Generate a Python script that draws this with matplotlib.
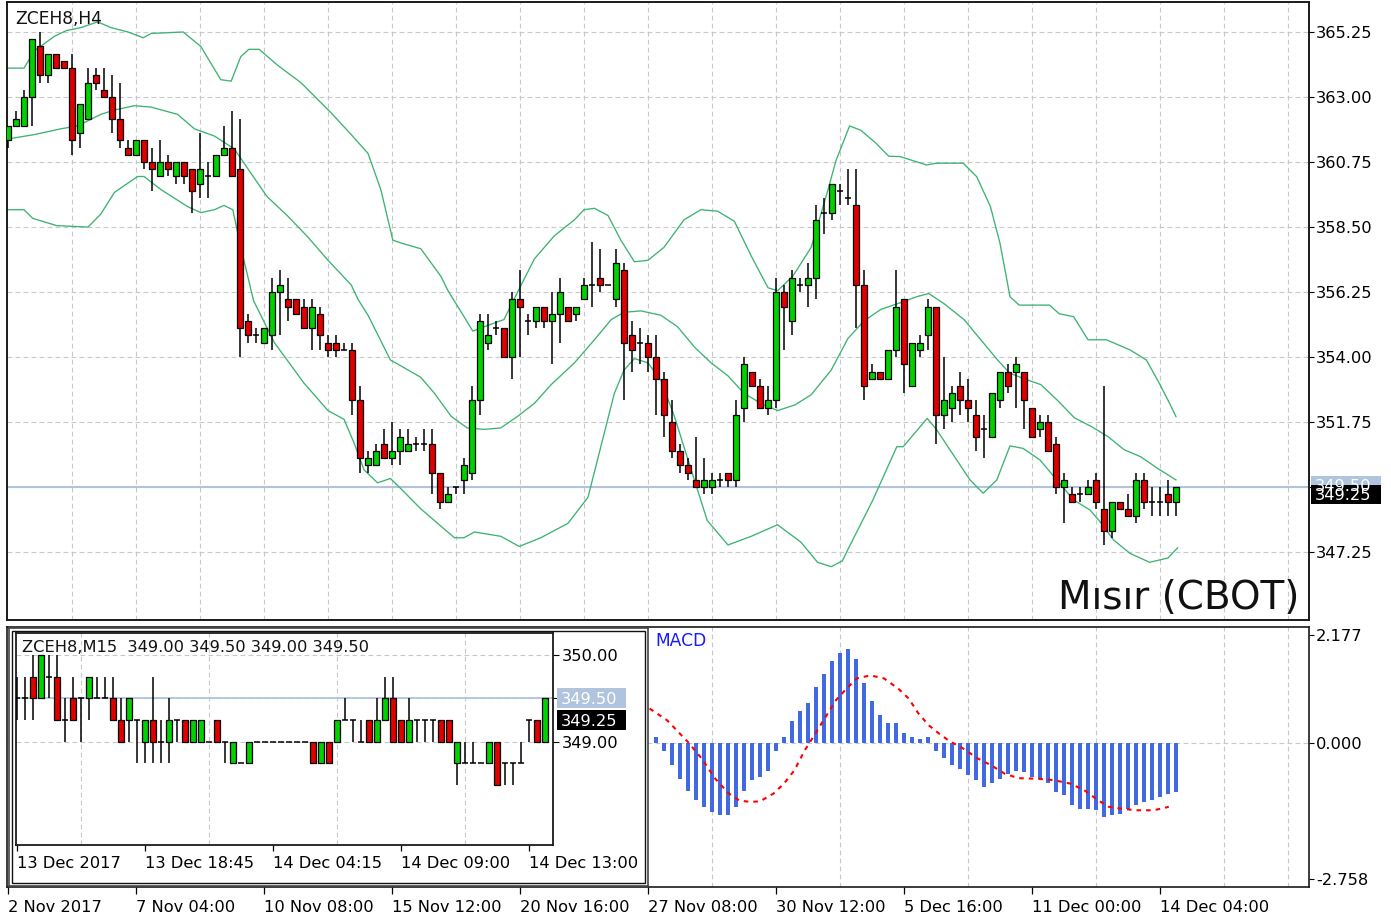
import matplotlib
matplotlib.use("Agg")
import matplotlib.pyplot as plt
from matplotlib.patches import Rectangle
from matplotlib.transforms import IdentityTransform
import numpy as np

plt.rcParams['font.family'] = ['DejaVu Sans']

W, H = 1391, 924
GREEN = '#00d200'
RED = '#e00000'
BAND = '#3cb371'
GRID = '#c8c8c8'
PRICE_LINE = '#b0c4de'
FS = 11.7

# ---------------- H4 candles (ZCEH8) ----------------
h4_open = [361.50, 362.00, 362.00, 363.00, 364.75, 363.75, 364.50, 364.25, 364.00, 361.75,
           362.25, 363.75, 363.25, 363.00, 362.25, 361.25, 361.00, 361.50, 360.75, 360.25,
           360.75, 360.25, 360.75, 360.50, 360.00, 360.25, 360.25, 361.00, 361.25, 360.50,
           355.25, 354.75, 354.50, 354.75, 356.25, 356.00, 356.00, 355.75, 355.00, 355.50,
           354.50, 354.50, 354.25, 354.25, 352.50, 350.25, 350.25, 351.00, 350.50, 350.75,
           350.75, 351.00, 351.00, 351.00, 350.00, 349.00, 349.50, 349.75, 350.00, 352.50,
           354.50, 355.00, 355.00, 354.00, 356.00, 355.25, 355.25, 355.75, 355.25, 355.50,
           355.75, 355.50, 356.00, 356.50, 356.75, 356.50, 356.00, 357.00, 354.75, 354.50,
           354.50, 354.00, 353.25, 351.75, 350.75, 350.25, 349.75, 349.50, 349.50, 349.75,
           350.00, 349.75, 352.25, 353.50, 353.00, 352.25, 352.50, 356.25, 355.25, 356.50,
           356.50, 356.75, 359.00, 359.00, 359.75, 359.50, 359.25, 356.50, 353.25, 353.50,
           353.25, 354.25, 356.00, 353.00, 354.25, 354.75, 355.75, 352.00, 352.25, 353.00,
           352.50, 352.00, 351.50, 351.25, 352.50, 353.50, 353.50, 353.50, 352.25, 351.50,
           351.75, 351.00, 349.50, 349.25, 349.25, 349.25, 349.75, 348.75, 348.00, 349.00,
           348.75, 348.50, 349.75, 349.00, 349.00, 349.25, 349.00]
h4_close = [362.00, 362.25, 363.00, 365.00, 363.75, 364.50, 364.00, 364.00, 361.50, 362.75,
            363.50, 363.50, 363.00, 362.25, 361.50, 361.00, 361.50, 360.75, 360.50, 360.75,
            360.50, 360.75, 360.25, 359.75, 360.50, 360.25, 361.00, 361.25, 360.25, 355.00,
            354.75, 354.75, 355.00, 356.25, 356.50, 355.75, 355.50, 355.00, 355.75, 354.75,
            354.25, 354.25, 354.25, 352.50, 350.50, 350.50, 350.75, 350.50, 350.75, 351.25,
            351.00, 351.00, 351.00, 350.00, 349.00, 349.25, 349.50, 350.25, 352.50, 355.25,
            354.75, 355.00, 354.00, 356.00, 355.75, 355.25, 355.75, 355.25, 355.50, 356.25,
            355.25, 355.75, 356.50, 356.50, 356.50, 356.50, 357.25, 354.50, 354.25, 354.50,
            354.00, 353.25, 352.00, 350.75, 350.25, 350.00, 349.50, 349.75, 349.75, 349.75,
            349.75, 352.00, 353.75, 353.00, 352.25, 352.50, 356.25, 355.75, 356.75, 356.50,
            356.75, 358.75, 359.00, 360.00, 359.75, 359.50, 356.50, 353.00, 353.50, 353.25,
            354.25, 355.75, 353.75, 354.50, 354.50, 355.75, 352.00, 352.50, 352.75, 352.50,
            352.25, 351.25, 351.50, 352.75, 353.50, 353.00, 353.75, 352.50, 351.25, 351.75,
            350.75, 349.50, 349.75, 349.00, 349.25, 349.50, 349.00, 348.00, 349.00, 348.75,
            348.50, 349.75, 349.00, 349.00, 349.00, 349.00, 349.50]
h4_high = [362.00, 362.50, 363.25, 365.00, 365.25, 364.50, 364.50, 364.25, 364.50, 362.75,
           364.00, 364.00, 364.00, 363.75, 363.50, 361.50, 361.50, 361.50, 361.25, 361.50,
           361.00, 360.75, 360.75, 360.50, 361.75, 360.75, 361.00, 362.00, 362.50, 362.25,
           355.50, 355.00, 355.00, 356.75, 357.00, 356.75, 356.00, 356.00, 356.00, 355.75,
           354.75, 354.75, 354.50, 354.50, 353.00, 350.75, 351.00, 351.50, 351.75, 351.50,
           351.50, 351.25, 351.50, 351.50, 350.00, 349.50, 349.50, 350.50, 353.00, 355.50,
           355.50, 355.25, 355.00, 356.25, 357.00, 355.50, 355.75, 355.75, 356.25, 356.75,
           355.75, 355.75, 356.75, 358.00, 357.75, 356.50, 357.75, 357.25, 355.25, 355.00,
           354.75, 354.75, 353.50, 352.50, 351.00, 350.50, 351.25, 350.50, 350.00, 350.00,
           350.00, 352.50, 354.00, 353.50, 353.25, 353.00, 356.75, 356.50, 357.00, 356.75,
           357.25, 359.25, 359.50, 360.00, 360.00, 360.50, 360.50, 357.00, 353.75, 353.50,
           354.25, 357.00, 356.00, 354.50, 354.75, 356.00, 355.75, 354.00, 353.00, 353.50,
           353.25, 352.50, 352.00, 352.75, 353.50, 353.75, 354.00, 353.50, 352.25, 352.00,
           352.00, 351.25, 350.00, 349.50, 349.50, 349.75, 350.00, 353.00, 349.00, 349.00,
           349.25, 350.00, 350.00, 349.50, 349.50, 349.75, 349.50]
h4_low = [361.25, 362.00, 362.00, 362.00, 363.50, 363.50, 364.00, 364.00, 361.00, 361.25,
          362.25, 363.25, 363.00, 361.75, 361.25, 361.00, 361.00, 360.50, 359.75, 360.25,
          360.25, 360.00, 360.00, 359.00, 359.50, 359.50, 360.25, 361.00, 360.25, 354.00,
          354.50, 354.50, 354.50, 354.25, 354.75, 355.25, 355.50, 355.00, 354.25, 354.25,
          354.00, 354.00, 354.25, 352.00, 350.00, 350.00, 350.25, 350.50, 350.25, 350.25,
          350.75, 350.75, 350.75, 349.25, 348.75, 349.00, 349.25, 349.25, 349.75, 352.00,
          354.25, 354.75, 354.00, 353.25, 354.00, 354.75, 355.00, 355.00, 353.75, 354.50,
          355.25, 355.25, 356.00, 355.75, 356.25, 356.50, 355.75, 352.50, 353.50, 353.75,
          353.50, 352.00, 351.25, 350.50, 350.00, 349.75, 349.50, 349.25, 349.25, 349.50,
          349.50, 349.50, 351.75, 353.00, 352.25, 352.00, 352.25, 354.25, 354.75, 356.25,
          355.75, 356.00, 358.25, 358.75, 359.25, 359.25, 355.00, 352.50, 353.25, 353.25,
          353.25, 354.00, 352.75, 353.00, 354.00, 354.25, 351.00, 351.50, 351.75, 352.00,
          351.75, 350.75, 350.50, 351.25, 352.25, 352.75, 352.25, 351.50, 351.25, 351.25,
          350.75, 349.25, 348.25, 349.00, 349.00, 349.25, 348.75, 347.50, 347.75, 348.75,
          348.50, 348.25, 348.75, 348.50, 348.50, 348.50, 348.50]

# Bollinger bands (bar position, price)
bb_up_x = [0, 2, 3.3, 5.8, 7.3, 9.1, 11.2, 12.9, 15, 16.9, 17.9, 21.9, 24.1, 26.6, 27.9, 29.1,
           30.1, 31.4, 33.7, 36.6, 40.4, 42.9, 45, 46.6, 48.1, 49.1, 51.6, 54.1, 55, 57, 58.1,
           59.5, 62, 63.7, 65.8, 68.3, 70.8, 72, 73.3, 75, 76.6, 78.3, 80, 82, 84.5, 86.6, 88.7,
           90.8, 92.9, 95, 96.2, 98.1, 100.4, 102.4, 103.5, 105.2, 106.6, 108.5, 110.1, 111.5,
           114.8, 116.1, 119.4, 121.1, 122.8, 124.0, 125.25, 126.4, 130.2, 131.4, 133.2, 135.0,
           137.3, 140.25, 142.3, 143.9, 145.2, 146.0]
bb_up = [364.0, 364.0, 364.6, 365.1, 365.3, 365.4, 365.6, 365.4, 365.25, 365.05, 365.2, 365.25,
         364.75, 363.6, 363.55, 364.4, 364.65, 364.65, 364.1, 363.5, 362.45, 361.7, 361.05,
         359.8, 358.05, 357.95, 357.75, 356.8, 356.3, 355.4, 354.9, 355.05, 355.3, 356.25,
         357.4, 358.2, 358.75, 359.1, 359.15, 358.9, 358.05, 357.3, 357.35, 357.8, 358.75,
         359.1, 359.05, 358.7, 357.5, 356.4, 356.3, 356.8, 357.8, 359.7, 360.8, 362.0, 361.85,
         361.4, 360.95, 360.94, 360.65, 360.71, 360.71, 360.24, 359.21, 357.94, 356.09, 355.8,
         355.8, 355.5, 355.4, 354.6, 354.6, 354.25, 353.9, 353.1, 352.4, 351.94]
bb_mid_x = [0, 3.3, 6.6, 8.7, 11.6, 13.3, 15.8, 17.9, 21.2, 23.3, 25.8, 28.3, 30.4, 32.4, 34.9,
            37.5, 40, 42.9, 43.75, 45, 47.8, 49.1, 51.6, 53.3, 55.4, 57.4, 59.5, 61.6, 63.7,
            65.8, 67.9, 70.8, 73.3, 75.4, 77, 79.1, 81.6, 83.7, 85.8, 87.9, 90, 92, 94.1, 96.2,
            98.4, 100.4, 102.9, 105, 107, 109.1, 111.2, 113.7, 115.1, 117, 119.5, 121.6, 123.7,
            125.2, 127, 129.1, 131.2, 133.3, 135.4, 137.5, 139.5, 141.6, 143.7, 146]
bb_mid = [361.55, 361.7, 361.9, 362.0, 362.4, 362.55, 362.7, 362.65, 362.4, 361.9, 361.65,
          361.2, 360.35, 359.55, 358.9, 358.15, 357.35, 356.5, 356.0, 355.45, 353.9, 353.7,
          353.3, 352.75, 351.95, 351.55, 351.5, 351.55, 351.95, 352.4, 353.05, 353.8, 354.6,
          355.3, 355.55, 355.6, 355.45, 355.05, 354.35, 353.8, 353.35, 352.75, 352.4, 352.15,
          352.35, 352.7, 353.55, 354.65, 355.25, 355.65, 355.85, 356.1, 356.2, 355.85, 355.3,
          354.6, 353.9, 353.45, 353.25, 353.05, 352.5, 351.9, 351.6, 351.25, 350.8, 350.55,
          350.15, 349.75]
bb_low_x = [0, 2, 3.1, 6.1, 10, 11.6, 13.3, 16.2, 17, 19.1, 22.5, 24.1, 25.8, 27, 28.1, 29.1,
            30.7, 33.3, 37, 40, 42, 43.3, 44.5, 46.2, 47.8, 49.1, 51.6, 55.8, 57, 58.3, 61.6,
            63.9, 66.6, 70, 72.5, 74.1, 75.8, 77, 78.3, 80, 81.6, 83.3, 85.4, 87.4, 90, 92.9,
            96.2, 99.1, 101.2, 102.9, 104.3, 105, 108.1, 111.1, 111.9, 114.9, 116.1, 120.25,
            121.9, 123.6, 125.25, 126.9, 129, 131.1, 133.2, 135.25, 136.5, 138.2, 140.25,
            142.7, 145, 146.2]
bb_low = [359.1, 359.1, 358.8, 358.55, 358.5, 358.95, 359.7, 360.25, 360.25, 359.8, 359.2,
          359.0, 359.1, 359.25, 359.1, 357.8, 355.95, 354.5, 353.1, 352.15, 351.85, 351.0,
          350.1, 349.65, 349.8, 349.45, 348.75, 347.75, 347.75, 347.95, 347.8, 347.45, 347.75,
          348.25, 349.15, 350.9, 352.75, 353.55, 353.95, 353.8, 353.2, 351.95, 350.1, 348.35,
          347.5, 347.8, 348.2, 347.6, 346.9, 346.75, 346.95, 347.35, 349.05, 350.9, 350.9,
          351.88, 351.48, 349.75, 349.29, 349.75, 350.93, 350.84, 350.44, 349.75, 349.06,
          348.71, 348.31, 347.67, 347.21, 346.9, 347.05, 347.4]

price_ticks = [365.25, 363.00, 360.75, 358.50, 356.25, 354.00, 351.75, 349.50, 347.25]
bid_price = 349.25
ask_price = 349.50
h4_dates = ['2 Nov 2017', '7 Nov 04:00', '10 Nov 08:00', '15 Nov 12:00', '20 Nov 16:00',
            '27 Nov 08:00', '30 Nov 12:00', '5 Dec 16:00', '11 Dec 00:00', '14 Dec 04:00']

# ---------------- MACD ----------------
macd_first_bar = 81
macd_hist = [0.12, -0.16, -0.45, -0.73, -0.97, -1.17, -1.30, -1.40, -1.46, -1.46,
             -1.30, -0.97, -0.76, -0.70, -0.57, -0.16, 0.12, 0.44, 0.63, 0.80,
             1.13, 1.38, 1.65, 1.82, 1.90, 1.70, 1.21, 0.84, 0.55, 0.40,
             0.40, 0.20, 0.12, 0.07, 0.12, -0.16, -0.31, -0.45, -0.53, -0.66,
             -0.76, -0.90, -0.81, -0.73, -0.63, -0.57, -0.59, -0.70, -0.73, -0.81,
             -1.01, -1.07, -1.26, -1.34, -1.34, -1.37, -1.51, -1.46, -1.45, -1.34,
             -1.26, -1.21, -1.17, -1.10, -1.05, -1.00]
sig_x = [80.2, 82.4, 85.0, 86.7, 88.4, 90.1, 91.4, 92.7, 94.0, 95.7, 97.0, 98.3, 99.6, 100.9,
         102.2, 103.5, 104.8, 106.1, 107.8, 109.5, 111.3, 112.6, 113.8, 115.1, 116.4, 117.7,
         119.4, 121.2, 122.9, 124.6, 126.3, 128.5, 130.7, 132.8, 134.5, 136.3, 137.6, 139.3,
         141.0, 143.2, 145.1]
sig_y = [0.69, 0.45, 0.01, -0.32, -0.73, -1.03, -1.17, -1.20, -1.19, -1.03, -0.83, -0.56,
         -0.155, 0.18, 0.52, 0.86, 1.09, 1.30, 1.36, 1.30, 1.09, 0.89, 0.59, 0.35, 0.18, 0.03,
         -0.12, -0.32, -0.46, -0.63, -0.72, -0.73, -0.76, -0.83, -0.96, -1.17, -1.30, -1.34,
         -1.37, -1.37, -1.30]
macd_ticks = [2.177, 0.0, -2.758]

# ---------------- M15 inset ----------------
m15_open = [349.50, 349.50, 349.75, 349.50, 349.75, 349.75, 349.25, 349.50, 349.50, 349.50,
            349.50, 349.50, 349.50, 349.25, 349.25, 349.25, 349.00, 349.25, 349.00, 349.00,
            349.25, 349.25, 349.00, 349.00, 349.00, 349.25, 349.00, 348.75, 348.75, 348.75,
            349.00, 349.00, 349.00, 349.00, 349.00, 349.00, 349.00,
            349.00, 348.75, 349.00, 349.00, 349.25, 349.25, 349.00, 349.25, 349.00, 349.25,
            349.50, 349.25, 349.00, 349.25, 349.25, 349.25, 349.25, 349.25, 348.75, 348.75,
            348.75, 348.75, 348.75, 349.00, 348.75, 348.75, 348.75, 349.25, 349.25, 349.00]
m15_close = [349.50, 349.50, 349.50, 350.00, 349.75, 349.25, 349.25, 349.25, 349.50, 349.75,
             349.50, 349.50, 349.25, 349.00, 349.50, 349.25, 349.25, 349.00, 349.00, 349.25,
             349.25, 349.00, 349.25, 349.25, 349.00, 349.00, 349.00, 349.00, 348.75, 349.00,
             349.00, 349.00, 349.00, 349.00, 349.00, 349.00, 349.00,
             348.75, 349.00, 348.75, 349.25, 349.25, 349.25, 349.00, 349.00, 349.25, 349.50,
             349.00, 349.00, 349.25, 349.25, 349.25, 349.25, 349.00, 349.00, 349.00, 348.75,
             348.75, 348.75, 349.00, 348.50, 348.75, 348.75, 348.75, 349.25, 349.00, 349.50]
m15_high = [349.75, 349.75, 350.00, 350.00, 350.00, 350.00, 349.50, 349.75, 349.50, 349.75,
            349.75, 349.75, 349.75, 349.50, 349.50, 349.25, 349.25, 349.75, 349.25, 349.50,
            349.25, 349.25, 349.25, 349.25, 349.00, 349.25, 349.00, 349.00, 348.75, 349.00,
            349.00, 349.00, 349.00, 349.00, 349.00, 349.00, 349.00,
            349.00, 349.00, 349.00, 349.25, 349.50, 349.25, 349.25, 349.25, 349.50, 349.75,
            349.75, 349.25, 349.50, 349.25, 349.25, 349.25, 349.25, 349.25, 349.00, 349.00,
            349.00, 348.75, 349.00, 349.00, 348.75, 348.75, 349.00, 349.25, 349.25, 349.50]
m15_low = [349.25, 349.25, 349.25, 349.50, 349.50, 349.25, 349.00, 349.25, 349.00, 349.25,
           349.50, 349.50, 349.25, 349.00, 349.00, 348.75, 348.75, 348.75, 348.75, 348.75,
           349.00, 349.00, 349.00, 349.00, 349.00, 349.00, 348.75, 348.75, 348.75, 348.75,
           349.00, 349.00, 349.00, 349.00, 349.00, 349.00, 349.00,
           348.75, 348.75, 348.75, 349.00, 349.25, 349.00, 349.00, 349.00, 349.00, 349.25,
           349.00, 349.00, 349.00, 349.00, 349.00, 349.00, 349.00, 349.00, 348.50, 348.75,
           348.75, 348.75, 348.75, 348.50, 348.50, 348.50, 348.75, 349.00, 349.00, 349.00]
m15_ticks = [350.00, 349.50, 349.00]
m15_bid = 349.25
m15_ask = 349.50
m15_dates = ['13 Dec 2017', '13 Dec 18:45', '14 Dec 04:15', '14 Dec 09:00', '14 Dec 13:00']
m15_ohlc_text = 'ZCEH8,M15  349.00 349.50 349.00 349.50'


fig = plt.figure(figsize=(W / 100, H / 100), dpi=100)
fig.patch.set_facecolor('white')


def px_axes(x0, y0, x1, y1, **kw):
    return fig.add_axes([x0 / W, 1 - y1 / H, (x1 - x0) / W, (y1 - y0) / H], **kw)


def candles(ax, o, c, hi, lo, width=0.64):
    o, c, hi, lo = map(np.asarray, (o, c, hi, lo))
    x = np.arange(len(o))
    ax.vlines(x, lo, hi, color='black', lw=1.1, zorder=3)
    up = c > o
    dn = c < o
    dj = c == o
    ax.bar(x[up], (c - o)[up], bottom=o[up], width=width, color=GREEN,
           edgecolor='black', linewidth=0.9, zorder=4)
    ax.bar(x[dn], (o - c)[dn], bottom=c[dn], width=width, color=RED,
           edgecolor='black', linewidth=0.9, zorder=4)
    ax.hlines(o[dj], x[dj] - width / 2, x[dj] + width / 2, color='black', lw=1.1, zorder=4)


def price_box(ax, value, x0, x1, hgt, fc, tc, text, dy=0):
    yd = ax.transData.transform((0, value))[1] + dy
    fig.add_artist(Rectangle((x0, yd - hgt / 2), x1 - x0, hgt, transform=IdentityTransform(),
                             facecolor=fc, edgecolor='none', zorder=10))
    fig.text(x0 + 4, yd, text, transform=IdentityTransform(), color=tc, fontsize=FS,
             va='center_baseline', ha='left', zorder=11)


def style_frame(ax, lw=1.2, color='#1a1a1a'):
    for s in ax.spines.values():
        s.set_linewidth(lw)
        s.set_color(color)


def tick_text(values, hidden, fmt):
    # the scale label under the live price box is not shown
    return ['' if v == hidden else fmt % v for v in values]


dash = (0, (4.3, 2.9))

# ---------------- main H4 chart ----------------
ax = px_axes(7, 2, 1309, 620)
ax.set_xlim(-0.125, 162.625)
ax.set_ylim(344.904, 366.288)
ax.set_xticks(np.arange(8, 163, 8), minor=True)
ax.set_xticks([])
ax.tick_params(axis='x', which='both', bottom=False, labelbottom=False)
ax.set_yticks(price_ticks)
ax.set_yticklabels(tick_text(price_ticks, ask_price, '%.2f'))
ax.yaxis.tick_right()
ax.tick_params(axis='y', length=3.6, width=0.8, pad=1.5, labelsize=FS)
ax.grid(True, which='minor', axis='x', color=GRID, ls=dash, lw=0.8)
ax.grid(True, which='major', axis='y', color=GRID, ls=dash, lw=0.8)
ax.set_axisbelow(True)
style_frame(ax, 1.4)

ax.axhline(ask_price, color=PRICE_LINE, lw=1.5, zorder=2)
ax.plot(bb_up_x, bb_up, color=BAND, lw=0.95, zorder=2.5)
ax.plot(bb_mid_x, bb_mid, color=BAND, lw=0.95, zorder=2.5)
ax.plot(bb_low_x, bb_low, color=BAND, lw=0.95, zorder=2.5)
candles(ax, h4_open, h4_close, h4_high, h4_low)

ax.text(0.006, 0.973, 'ZCEH8,H4', transform=ax.transAxes, fontsize=12.3,
        va='center', ha='left', color='#111111')
ax.text(0.9925, 0.018, 'Mısır (CBOT)', transform=ax.transAxes, fontsize=28,
        va='baseline', ha='right', color='#111111')

# ---------------- MACD window ----------------
ax2 = px_axes(7, 627, 1309, 887)
ax2.set_xlim(-0.125, 162.625)
ax2.set_ylim(-2.923, 2.340)
ax2.bar(macd_first_bar + np.arange(len(macd_hist)), macd_hist, width=0.4,
        color='#4169e1', zorder=3)
ax2.plot(sig_x, sig_y, color='#ff0000', lw=1.5, ls=(0, (2.2, 2.4)), zorder=4)
ax2.axhline(0, color=GRID, ls=dash, lw=0.8, zorder=1)
ax2.set_xticks(np.arange(8, 163, 8), minor=True)
ax2.set_xticks(np.arange(len(h4_dates)) * 16)
ax2.set_xticklabels(h4_dates)
for t in ax2.get_xticklabels():
    t.set_horizontalalignment('left')
ax2.tick_params(axis='x', which='major', length=5, width=0.9, pad=4.5, labelsize=FS)
ax2.tick_params(axis='x', which='minor', length=0)
ax2.grid(True, which='minor', axis='x', color=GRID, ls=dash, lw=0.8)
ax2.set_yticks(macd_ticks)
ax2.set_yticklabels(['%.3f' % v for v in macd_ticks])
ax2.yaxis.tick_right()
ax2.tick_params(axis='y', length=3.6, width=0.8, pad=1.5, labelsize=FS)
ax2.set_axisbelow(True)
style_frame(ax2, 1.2)
fig.text(655 / W, 1 - 641 / H, 'MACD', color='#1a1aff', fontsize=12.3,
         va='center', ha='left')

# ---------------- M15 inset window ----------------
axf = px_axes(9, 628, 648, 886, zorder=4)
axf.set_facecolor('white')
axf.set_xticks([])
axf.set_yticks([])
style_frame(axf, 1.2, '#444444')
fig.add_artist(Rectangle((12, H - 883), 633, 252, transform=IdentityTransform(),
                         fill=False, edgecolor='#111111', lw=1.0, zorder=4.5))

ax3 = px_axes(16, 633, 553, 845, zorder=5)
ax3.set_facecolor('white')
ax3.set_xlim(-0.125, 67.0)
ax3.set_ylim(347.8085, 350.2537)
ax3.axhline(m15_ask, color=PRICE_LINE, lw=1.3, zorder=2)
candles(ax3, m15_open, m15_close, m15_high, m15_low)
ax3.set_xticks(np.arange(8, 67, 8), minor=True)
ax3.set_xticks(np.arange(len(m15_dates)) * 16)
ax3.set_xticklabels(m15_dates)
for t in ax3.get_xticklabels():
    t.set_horizontalalignment('left')
ax3.tick_params(axis='x', which='major', length=4.5, width=0.9, pad=3.5, labelsize=FS)
ax3.tick_params(axis='x', which='minor', length=0)
ax3.set_yticks(m15_ticks)
ax3.set_yticklabels(tick_text(m15_ticks, m15_ask, '%.2f'))
ax3.yaxis.tick_right()
ax3.tick_params(axis='y', length=4.5, width=0.8, pad=1.5, labelsize=FS)
ax3.grid(True, which='minor', axis='x', color=GRID, ls=dash, lw=0.8)
ax3.grid(True, which='major', axis='y', color=GRID, ls=dash, lw=0.8)
ax3.set_axisbelow(True)
style_frame(ax3, 1.3)
ax3.text(0.012, 0.93, m15_ohlc_text, transform=ax3.transAxes, fontsize=FS,
         va='center', ha='left', color='#111111', zorder=6)

# price labels on the right scales (ask label sits mostly behind the bid label)
price_box(ax, ask_price, 1311, 1381, 19, PRICE_LINE, 'white', '%.2f' % ask_price, dy=2)
price_box(ax, bid_price, 1311, 1381, 19, 'black', 'white', '%.2f' % bid_price)
price_box(ax3, m15_ask, 557, 626, 20, PRICE_LINE, 'white', '%.2f' % m15_ask)
price_box(ax3, m15_bid, 557, 626, 20, 'black', 'white', '%.2f' % m15_bid)

fig.savefig('out.png', dpi=100, facecolor='white')
